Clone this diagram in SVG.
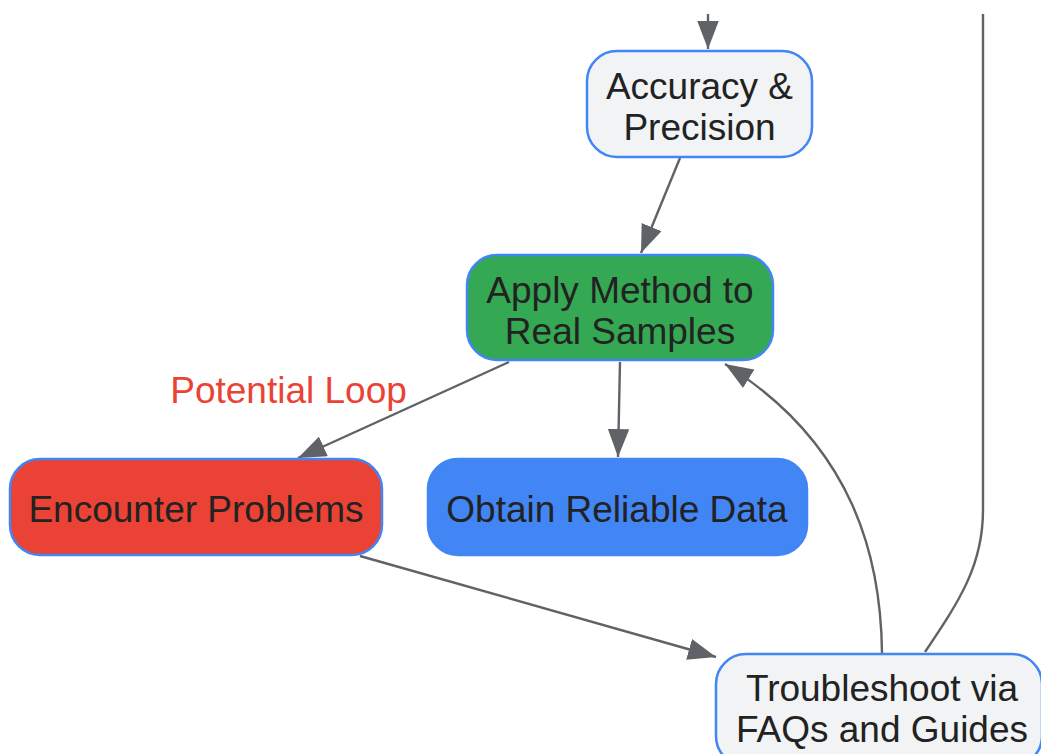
<svg xmlns="http://www.w3.org/2000/svg" width="1041" height="754" viewBox="0 0 1041 754">
<defs>
<style>
.node rect{stroke:#4285f4;stroke-width:2.5}
.light{fill:#f1f3f5}
.green{fill:#34a853}
.red{fill:#ea4335}
.blue{fill:#4285f4}
.t{font-family:"Liberation Sans",Arial,sans-serif;font-size:37px;fill:#222222;text-anchor:middle}
.lbl{font-family:"Liberation Sans",Arial,sans-serif;font-size:37px;fill:#ea4335;text-anchor:middle}
.edge{fill:none;stroke:#5f6368;stroke-width:2.4}
</style>
<marker id="arr" viewBox="0 0 13 10" refX="13" refY="5" markerWidth="28" markerHeight="21.5" markerUnits="userSpaceOnUse" orient="auto">
<path d="M0,0 L13,5 L0,10 z" fill="#5f6368"/>
</marker>
</defs>
<rect width="1041" height="754" fill="#ffffff"/>
<g id="connectors">
<path class="edge" d="M708,14 L708,49" marker-end="url(#arr)"/>
<path class="edge" d="M680,158 L641,253" marker-end="url(#arr)"/>
<path class="edge" d="M509,362 L298,458" marker-end="url(#arr)"/>
<path class="edge" d="M620,362 L618,457" marker-end="url(#arr)"/>
<path class="edge" d="M360,556 L716,657" marker-end="url(#arr)"/>
<path class="edge" d="M882,653 C881,560 855,445 725,364" marker-end="url(#arr)"/>
<path class="edge" d="M925,652 C960,600 983,565 983,510 L983,14"/>
<text class="lbl" x="288.5" y="403">Potential Loop</text>
</g>
<g id="accuracy" class="node">
<rect class="light" x="587" y="51" width="225" height="106" rx="30"/>
<text class="t" x="699.5" y="99">Accuracy &amp;</text>
<text class="t" x="699.5" y="140">Precision</text>
</g>
<g id="apply" class="node">
<rect class="green" x="467" y="255" width="306" height="105" rx="30"/>
<text class="t" x="620" y="303">Apply Method to</text>
<text class="t" x="620" y="344">Real Samples</text>
</g>
<g id="encounter" class="node">
<rect class="red" x="10" y="459" width="372" height="96" rx="30"/>
<text class="t" x="196" y="522">Encounter Problems</text>
</g>
<g id="obtain" class="node">
<rect class="blue" x="428" y="459" width="379" height="96" rx="30"/>
<text class="t" x="617" y="522">Obtain Reliable Data</text>
</g>
<g id="troubleshoot" class="node">
<rect class="light" x="716" y="654" width="326" height="112" rx="30"/>
<text class="t" x="882" y="701">Troubleshoot via</text>
<text class="t" x="882" y="742">FAQs and Guides</text>
</g>
</svg>
